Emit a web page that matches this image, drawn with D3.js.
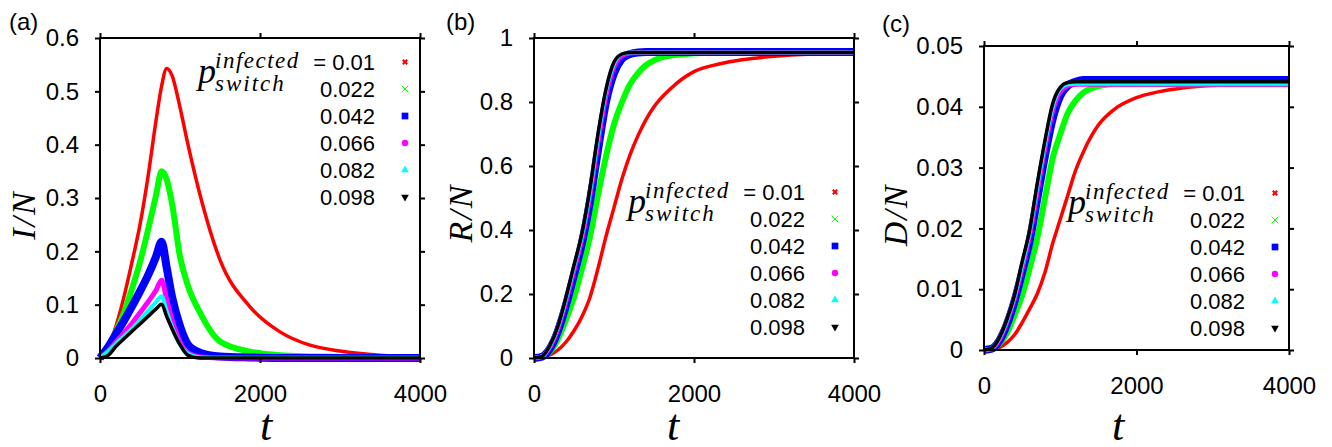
<!DOCTYPE html>
<html>
<head>
<meta charset="utf-8">
<script src="https://cdn.jsdelivr.net/npm/d3@7"></script>
<style>
  body { margin: 0; background: #fff; }
</style>
</head>
<body>
<div id="chart"></div>
<script>
// legend values and series colours
var pValues = ["0.01", "0.022", "0.042", "0.066", "0.082", "0.098"];
var seriesColors = ["#ff0000", "#00ff00", "#0000ff", "#ff00ff", "#00ffff", "#000000"];

// panel (a): infected fraction
var tA = [0, 100, 200, 300, 400, 500, 600, 700, 770, 833, 900, 1000, 1100, 1250, 1500, 1875, 2250, 2625, 3000, 3500, 4000];
var infRed     = [0, 0.02, 0.06, 0.115, 0.18, 0.25, 0.34, 0.445, 0.51, 0.543, 0.53, 0.47, 0.40, 0.306, 0.184, 0.096, 0.049, 0.024, 0.013, 0.005, 0.002];
var infGreen   = [0, 0.02, 0.05, 0.085, 0.13, 0.18, 0.24, 0.305, 0.35, 0.335, 0.29, 0.19, 0.135, 0.085, 0.031, 0.012, 0.005, 0.003, 0.002, 0.001, 0.001];
var infBlue    = [0, 0.02, 0.045, 0.07, 0.097, 0.125, 0.155, 0.19, 0.218, 0.17, 0.115, 0.06, 0.025, 0.01, 0.003, 0.001, 0, 0, 0, 0, 0];
var infMagenta = [0, 0.013, 0.03, 0.047, 0.065, 0.085, 0.105, 0.127, 0.146, 0.11, 0.072, 0.03, 0.01, 0.002, 0.0005, 0, 0, 0, 0, 0, 0];
var infCyan    = [0, 0.012, 0.027, 0.041, 0.055, 0.071, 0.088, 0.105, 0.116, 0.088, 0.058, 0.025, 0.008, 0.001, 0, 0, 0, 0, 0, 0, 0];
var infBlack   = [0, 0.005, 0.022, 0.036, 0.05, 0.064, 0.078, 0.092, 0.101, 0.078, 0.055, 0.025, 0.005, 0, 0, 0, 0, 0, 0, 0, 0];

// panels (b) and (c): recovered and dead fractions
var tB = [0, 100, 200, 300, 400, 500, 600, 700, 800, 900, 1000, 1100, 1200, 1300, 1400, 1500, 1700, 2000, 2300, 2600, 3000, 3500, 4000];
var recRed     = [0, 0.002, 0.01, 0.025, 0.05, 0.085, 0.13, 0.19, 0.28, 0.38, 0.47, 0.56, 0.635, 0.695, 0.745, 0.785, 0.84, 0.895, 0.918, 0.932, 0.943, 0.95, 0.953];
var recGreen   = [0, 0.003, 0.02, 0.06, 0.12, 0.19, 0.28, 0.38, 0.51, 0.63, 0.73, 0.8, 0.855, 0.89, 0.915, 0.93, 0.945, 0.952, 0.954, 0.955, 0.955, 0.955, 0.955];
var recBlue    = [0, 0.004, 0.03, 0.085, 0.165, 0.26, 0.36, 0.49, 0.65, 0.8, 0.89, 0.935, 0.95, 0.955, 0.956, 0.956, 0.956, 0.956, 0.956, 0.956, 0.956, 0.956, 0.956];
var recMagenta = [0, 0.004, 0.035, 0.092, 0.178, 0.275, 0.375, 0.51, 0.675, 0.82, 0.91, 0.945, 0.953, 0.955, 0.955, 0.955, 0.955, 0.955, 0.955, 0.955, 0.955, 0.955, 0.955];
var recCyan    = [0, 0.005, 0.038, 0.097, 0.185, 0.285, 0.385, 0.52, 0.69, 0.835, 0.92, 0.95, 0.955, 0.955, 0.955, 0.955, 0.955, 0.955, 0.955, 0.955, 0.955, 0.955, 0.955];
var recBlack   = [0, 0.005, 0.04, 0.1, 0.19, 0.29, 0.39, 0.53, 0.7, 0.84, 0.925, 0.95, 0.955, 0.955, 0.955, 0.955, 0.955, 0.955, 0.955, 0.955, 0.955, 0.955, 0.955];

var deadRed     = [0, 0.0001, 0.0004, 0.0012, 0.0025, 0.0045, 0.0068, 0.0093, 0.0128, 0.0175, 0.0215, 0.0255, 0.0295, 0.0325, 0.035, 0.037, 0.0395, 0.0415, 0.0425, 0.0431, 0.0435, 0.0437, 0.0437];
var deadGreen   = [0, 0.0002, 0.001, 0.0028, 0.0057, 0.009, 0.0135, 0.0185, 0.025, 0.0315, 0.0355, 0.039, 0.041, 0.0423, 0.043, 0.0434, 0.0437, 0.0437, 0.0437, 0.0437, 0.0437, 0.0437, 0.0437];
var deadBlue    = [0, 0.0002, 0.0015, 0.0042, 0.008, 0.0128, 0.018, 0.025, 0.032, 0.038, 0.0418, 0.0435, 0.0441, 0.0444, 0.0444, 0.0444, 0.0444, 0.0444, 0.0444, 0.0444, 0.0444, 0.0444, 0.0444];
var deadMagenta = [0, 0.0002, 0.0017, 0.0046, 0.0085, 0.0135, 0.019, 0.0262, 0.0333, 0.0393, 0.0425, 0.0435, 0.0437, 0.0437, 0.0437, 0.0437, 0.0437, 0.0437, 0.0437, 0.0437, 0.0437, 0.0437, 0.0437];
var deadCyan    = [0, 0.0003, 0.0019, 0.0048, 0.0088, 0.014, 0.0195, 0.027, 0.034, 0.04, 0.043, 0.0437, 0.0438, 0.0438, 0.0438, 0.0438, 0.0438, 0.0438, 0.0438, 0.0438, 0.0438, 0.0438, 0.0438];
var deadBlack   = [0, 0.0003, 0.002, 0.005, 0.009, 0.0145, 0.0198, 0.0275, 0.0345, 0.0405, 0.0432, 0.044, 0.0441, 0.0441, 0.0441, 0.0441, 0.0441, 0.0441, 0.0441, 0.0441, 0.0441, 0.0441, 0.0441];

var xTicks = [0, 2000, 4000];
var yTicksA = [0, 0.1, 0.2, 0.3, 0.4, 0.5, 0.6];
var yTicksB = [0, 0.2, 0.4, 0.6, 0.8, 1];
var yTicksC = [0, 0.01, 0.02, 0.03, 0.04, 0.05];

var svg = d3.select("#chart").append("svg")
    .attr("width", 1332)
    .attr("height", 447);

var sans = "'Liberation Sans', Arial, sans-serif";
var serif = "'Liberation Serif', 'Times New Roman', serif";
var widths = [3.5, 6, 8, 5, 4, 3.5];
var symbols = [d3.symbolCross, d3.symbolX, d3.symbolSquare, d3.symbolCircle, d3.symbolTriangle, d3.symbolTriangle];
var symbolSizes = [22, 30, 45, 32, 26, 26];

function makePanel(p) {
  var g = svg.append("g");
  var x = d3.scaleLinear().domain([0, 4000]).range([p.left, p.right]);
  var y = d3.scaleLinear().domain([0, p.ymax]).range([p.bottom, p.top]);

  // curves, red drawn first, black last
  var line = d3.line()
      .x(function(d) { return x(d[0]); })
      .y(function(d) { return y(d[1]); })
      .curve(d3.curveMonotoneX);

  p.series.forEach(function(vals, i) {
    var pts = p.t.map(function(t, k) { return [t, vals[k]]; });
    g.append("path")
      .datum(pts)
      .attr("d", line)
      .attr("fill", "none")
      .attr("stroke", seriesColors[i])
      .attr("stroke-width", widths[i])
      .attr("stroke-linejoin", "round");
  });

  // axes, ticks pointing outward like the original
  var fmt = function(d) { return String(+d.toFixed(3)); };

  var ax = g.append("g").attr("transform", "translate(0," + p.bottom + ")")
      .call(d3.axisBottom(x).tickValues(xTicks).tickSize(5).tickSizeOuter(0).tickPadding(16).tickFormat(fmt));
  var axTop = g.append("g").attr("transform", "translate(0," + p.top + ")")
      .call(d3.axisTop(x).tickValues(xTicks).tickSize(5).tickSizeOuter(0).tickFormat(""));
  var ay = g.append("g").attr("transform", "translate(" + p.left + ",0)")
      .call(d3.axisLeft(y).tickValues(p.yTicks).tickSize(5).tickSizeOuter(0).tickPadding(16).tickFormat(fmt));
  var ayR = g.append("g").attr("transform", "translate(" + p.right + ",0)")
      .call(d3.axisRight(y).tickValues(p.yTicks).tickSize(5).tickSizeOuter(0).tickFormat(""));

  [ax, axTop, ay, ayR].forEach(function(a) {
    a.select(".domain").remove();
    a.selectAll(".tick line").attr("stroke", "#000").attr("stroke-width", 2);
    a.selectAll(".tick text")
      .attr("font-family", sans)
      .attr("font-size", "24px")
      .attr("fill", "#000");
  });
  ax.selectAll(".tick text").attr("dy", "0.95em");

  g.append("rect")
    .attr("x", p.left)
    .attr("y", p.top)
    .attr("width", p.right - p.left)
    .attr("height", p.bottom - p.top)
    .attr("fill", "none")
    .attr("stroke", "#000")
    .attr("stroke-width", 2);

  // panel tag
  g.append("text")
    .attr("x", p.tagX)
    .attr("y", p.tagY)
    .text(p.tag)
    .attr("font-family", sans)
    .attr("font-size", "24px");

  // axis titles
  g.append("text")
    .attr("x", p.tX)
    .attr("y", 440)
    .attr("text-anchor", "middle")
    .text("t")
    .attr("font-family", serif)
    .attr("font-style", "italic")
    .attr("font-size", "44px");

  g.append("text")
    .attr("transform", "translate(" + p.yLabX + "," + p.yLabY + ") rotate(-90)")
    .attr("text-anchor", "middle")
    .text(p.yLabel)
    .attr("font-family", serif)
    .attr("font-style", "italic")
    .attr("font-size", "34px")
    .attr("letter-spacing", "2px");

  // legend
  var lg = g.append("g").attr("transform", "translate(" + p.legX + "," + p.legY + ")");
  lg.append("text")
    .attr("x", 0).attr("y", 13)
    .text("p")
    .attr("font-family", serif).attr("font-style", "italic").attr("font-size", "36px");
  lg.append("text")
    .attr("x", 17).attr("y", -2)
    .text("infected")
    .attr("font-family", serif).attr("font-style", "italic").attr("font-size", "23px")
    .attr("letter-spacing", "1.5px");
  lg.append("text")
    .attr("x", 17).attr("y", 21)
    .text("switch")
    .attr("font-family", serif).attr("font-style", "italic").attr("font-size", "23px")
    .attr("letter-spacing", "2px");

  pValues.forEach(function(v, i) {
    lg.append("text")
      .attr("x", 177)
      .attr("y", i * 27)
      .attr("text-anchor", "end")
      .text(i === 0 ? "= " + v : v)
      .attr("font-family", sans)
      .attr("font-size", "22px");
    var rot = (i === 5) ? 180 : (i === 0 ? 45 : 0);
    lg.append("path")
      .attr("d", d3.symbol().type(symbols[i]).size(symbolSizes[i]))
      .attr("transform", "translate(207," + (i * 27 - 8) + ") rotate(" + rot + ")")
      .attr("fill", seriesColors[i])
      .attr("stroke", i === 1 ? seriesColors[i] : "none")
      .attr("stroke-width", 1);
  });
}

makePanel({
  left: 100, right: 420, top: 38, bottom: 358, ymax: 0.6, yTicks: yTicksA,
  t: tA, series: [infRed, infGreen, infBlue, infMagenta, infCyan, infBlack],
  tag: "(a)", tagX: 9, tagY: 30, tX: 266, yLabel: "I/N", yLabX: 35, yLabY: 215,
  legX: 198, legY: 70
});

makePanel({
  left: 534, right: 854, top: 38, bottom: 358, ymax: 1, yTicks: yTicksB,
  t: tB, series: [recRed, recGreen, recBlue, recMagenta, recCyan, recBlack],
  tag: "(b)", tagX: 446, tagY: 30, tX: 673, yLabel: "R/N", yLabX: 472, yLabY: 213,
  legX: 628, legY: 200
});

makePanel({
  left: 984, right: 1289, top: 46, bottom: 350, ymax: 0.05, yTicks: yTicksC,
  t: tB, series: [deadRed, deadGreen, deadBlue, deadMagenta, deadCyan, deadBlack],
  tag: "(c)", tagX: 882, tagY: 32, tX: 1118, yLabel: "D/N", yLabX: 907, yLabY: 215,
  legX: 1068, legY: 201
});
</script>
</body>
</html>
